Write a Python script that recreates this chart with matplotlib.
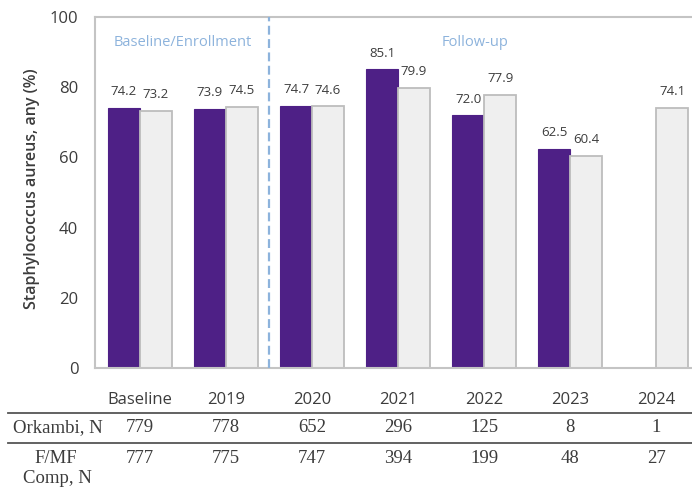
import matplotlib.pyplot as plt
import numpy as np
from matplotlib.transforms import blended_transform_factory

# S. aureus prevalence by year, two cohorts
years = ['Baseline', '2019', '2020', '2021', '2022', '2023', '2024']
orkambi = [74.2, 73.9, 74.7, 85.1, 72.0, 62.5, None]
comparator = [73.2, 74.5, 74.6, 79.9, 77.9, 60.4, 74.1]
orkambi_n = ['779', '778', '652', '296', '125', '8', '1']
comp_n = ['777', '775', '747', '394', '199', '48', '27']

purple = '#4e2086'
grey_face = '#efefef'
grey_edge = '#bdbdbd'
blue = '#8db3dc'
text_col = '#3c3c3c'
sans = 'Open Sans'
serif = 'Liberation Serif'

fig = plt.figure(figsize=(6.92, 4.90), dpi=100)
ax = fig.add_axes([0.1373, 0.249, 0.876, 0.716])

x = np.arange(len(years))
w = 0.37

ork_x = [xi - w / 2 for xi, v in zip(x, orkambi) if v is not None]
ork_v = [v for v in orkambi if v is not None]
ax.bar(ork_x, ork_v, width=w, color=purple, edgecolor=purple, linewidth=0.8, zorder=2)
ax.bar(x + w / 2, comparator, width=w, color=grey_face, edgecolor=grey_edge, linewidth=1.3, zorder=2)

for xi, v in list(zip(ork_x, ork_v)) + list(zip(x + w / 2, comparator)):
    ax.annotate(f'{v:.1f}', (xi, v), xytext=(0, 7), textcoords='offset points',
                ha='center', va='bottom', fontsize=9.5, color=text_col, family=sans)

ax.axvline(1.5, color=blue, linestyle=(0, (4, 2)), linewidth=1.6, zorder=3)
ax.text(0.5, 92.9, 'Baseline/Enrollment', color=blue, fontsize=10.5, ha='center', va='center',
        family=sans)
ax.text(3.89, 92.9, 'Follow-up', color=blue, fontsize=10.5, ha='center', va='center',
        family=sans)

ax.set_xlim(-0.52, 6.52)
ax.set_ylim(0, 100)
ax.set_yticks([0, 20, 40, 60, 80, 100])
ax.set_xticks([])
ax.tick_params(axis='y', length=0, pad=12, labelsize=12, labelcolor=text_col)
for lbl in ax.get_yticklabels():
    lbl.set_family(sans)
for sp in ax.spines.values():
    sp.set_color('#c4c4c4')
    sp.set_linewidth(1.5)
ax.spines['right'].set_visible(False)
ax.set_ylabel('Staphylococcus aureus, any (%)', fontsize=11.5, color=text_col,
              family=sans, weight='semibold')
ax.yaxis.set_label_coords(-0.09, 0.51)

# table of counts under the plot
bt = blended_transform_factory(ax.transData, fig.transFigure)
for xi, yr, a, b in zip(x, years, orkambi_n, comp_n):
    fig.text(xi, 0.184, yr, transform=bt, ha='center', va='center', fontsize=12,
             color=text_col, family=sans)
    fig.text(xi, 0.127, a, transform=bt, ha='center', va='center', fontsize=13.5,
             color=text_col, family=serif)
    fig.text(xi, 0.065, b, transform=bt, ha='center', va='center', fontsize=13.5,
             color=text_col, family=serif)

fig.text(0.083, 0.127, 'Orkambi, N', ha='center', va='center', fontsize=13.5,
         color=text_col, family=serif)
fig.text(0.080, 0.065, 'F/MF', ha='center', va='center', fontsize=13.5,
         color=text_col, family=serif)
fig.text(0.083, 0.024, 'Comp, N', ha='center', va='center', fontsize=13.5,
         color=text_col, family=serif)

for yy in (0.157, 0.096):
    fig.add_artist(plt.Line2D([0.012, 1.0], [yy, yy], transform=fig.transFigure,
                              color='#555555', linewidth=1.3))

fig.savefig('out.png', dpi=100)
